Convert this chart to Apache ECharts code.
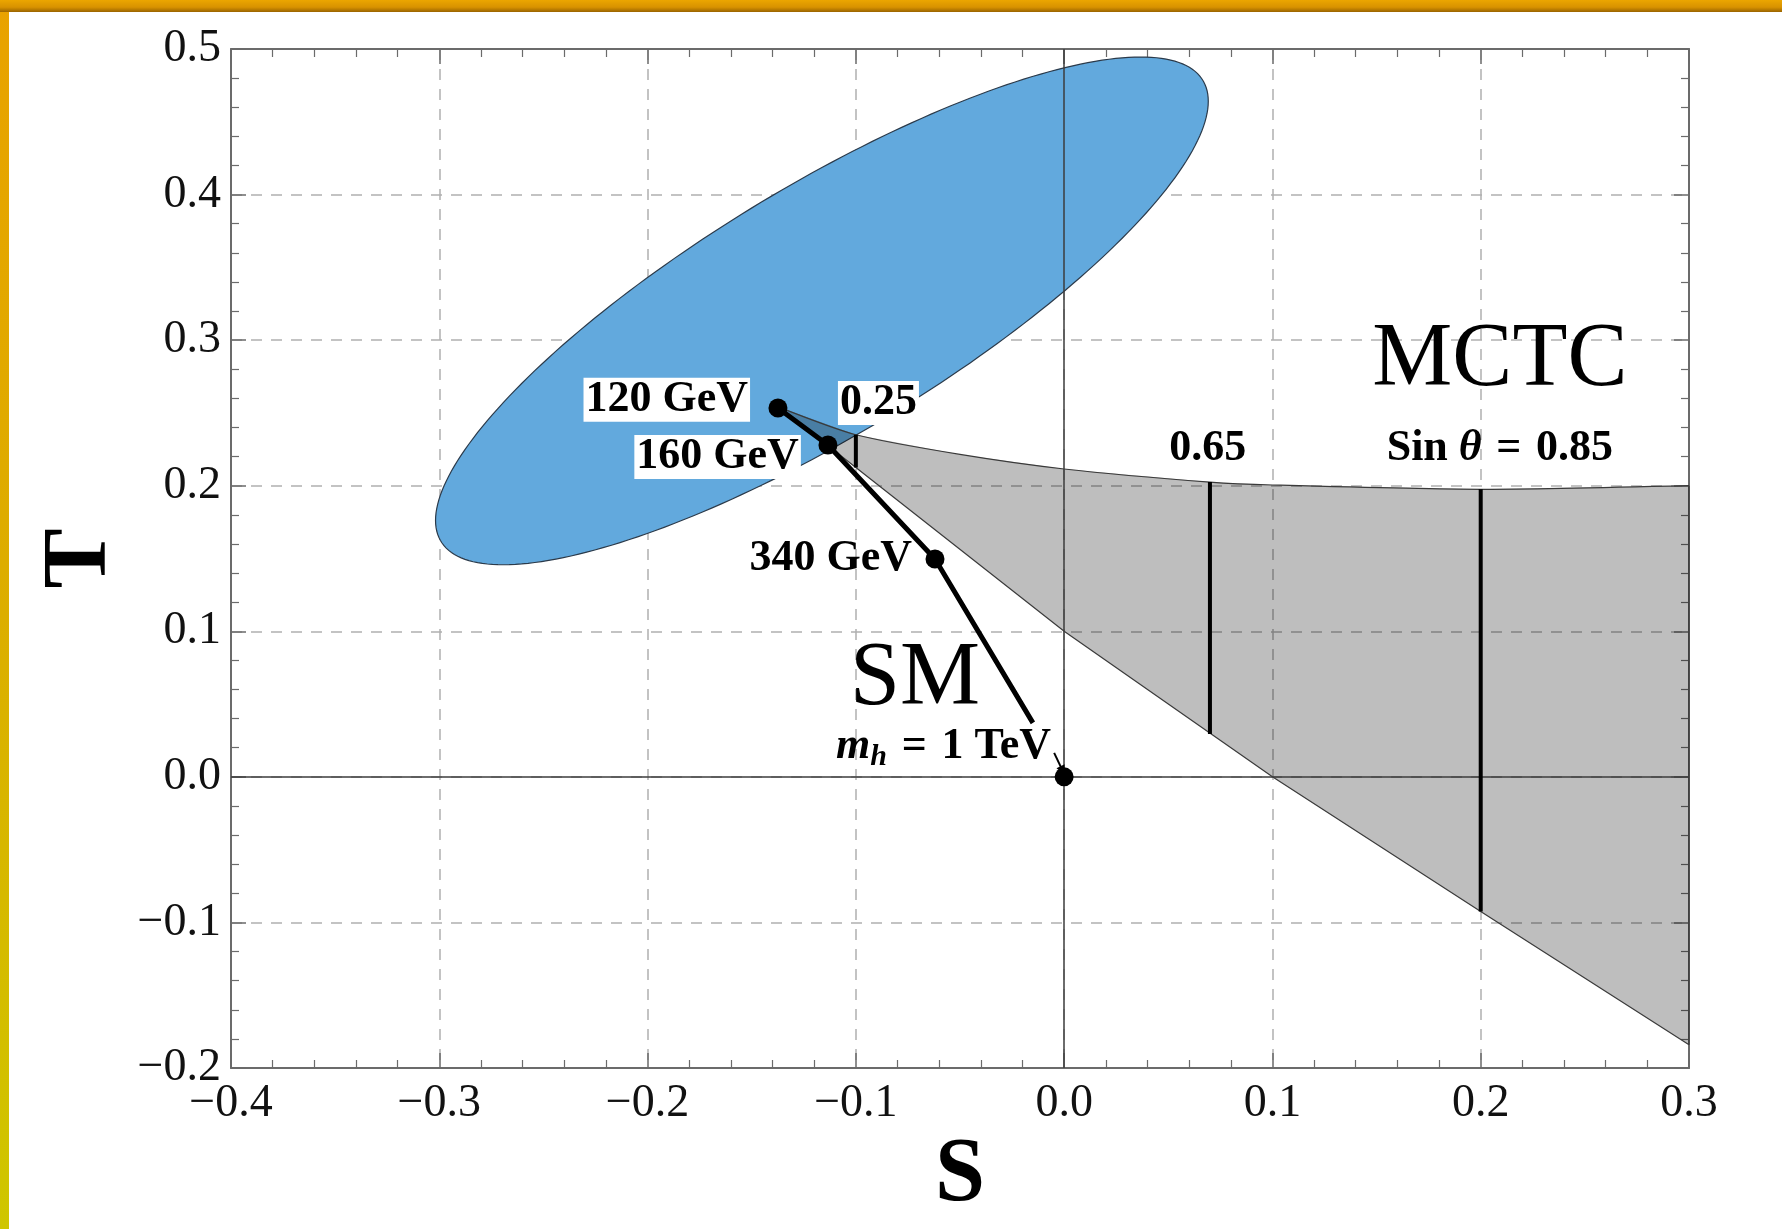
<!DOCTYPE html>
<html><head><meta charset="utf-8">
<script src="https://cdn.jsdelivr.net/npm/echarts@6/dist/echarts.min.js"></script>
<style>html,body{margin:0;padding:0;background:#fff}#c{width:1782px;height:1229px}</style>
</head><body><div id="c"></div>
<script>
// ---- tick labels ----
const xTickValues = [-0.4, -0.3, -0.2, -0.1, 0.0, 0.1, 0.2, 0.3];
const xTickLabels = ['−0.4', '−0.3', '−0.2', '−0.1', '0.0', '0.1', '0.2', '0.3'];
const yTickValues = [-0.2, -0.1, 0.0, 0.1, 0.2, 0.3, 0.4, 0.5];
const yTickLabels = ['−0.2', '−0.1', '0.0', '0.1', '0.2', '0.3', '0.4', '0.5'];

// ---- experimental ellipse (S,T) : centre, half extents in S and T, phase of tilt ----
const ellipseCenter = [-0.1163, 0.3201];
const ellipseHalfExtent = [0.1855, 0.1744];
const ellipsePhase = [0.6];

// ---- MCTC region boundaries ----
const mctcUpperS = [-0.137, -0.1, -0.05, 0.0, 0.07, 0.1, 0.2, 0.3];
const mctcUpperT = [0.254, 0.235, 0.2215, 0.2115, 0.2025, 0.2005, 0.1975, 0.200];
const mctcLowerS = [-0.137, -0.1, 0.0, 0.1, 0.2, 0.3];
const mctcLowerT = [0.254, 0.2125, 0.100, 0.000, -0.0925, -0.184];

// ---- sin theta lines ----
const sinThetaValues = ['0.25', '0.65', '0.85'];
const sinThetaS = [-0.1, 0.07, 0.2];
const sinThetaLow = [0.2125, 0.0295, -0.0925];
const sinThetaHigh = [0.235, 0.2025, 0.1975];

// ---- SM curve and Higgs mass points ----
const smPathS = [-0.1374, -0.1134, -0.062, -0.015];
const smPathT = [0.2534, 0.228, 0.1497, 0.0371];
const smMassLabels = ['120 GeV', '160 GeV', '340 GeV', '1 TeV'];
const smDotS = [-0.1374, -0.1134, -0.062, 0.0];
const smDotT = [0.2534, 0.228, 0.1497, 0.0];

const SERIF = '"Liberation Serif","DejaVu Serif",serif';
const frameColor = '#6b6b6b';
const SP = '\u2004';

function fmt(values, labels) {
  return v => { const i = values.findIndex(t => Math.abs(t - v) < 1e-6); return i >= 0 ? labels[i] : ''; };
}
function frameAxis(extra) {
  return Object.assign({
    type: 'value', interval: 0.1,
    axisLine: { show: true, onZero: false, lineStyle: { color: frameColor, width: 2 } },
    axisTick: { show: true, inside: true, length: 15, lineStyle: { color: frameColor, width: 1.5 } },
    minorTick: { show: true, splitNumber: 5, length: 8, lineStyle: { color: frameColor, width: 1.2 } },
    splitLine: { show: false }, axisLabel: { show: false }
  }, extra);
}
const gridStyle = { show: true, lineStyle: { color: '#b0b0b0', width: 1.5, type: [11, 9] } };
const labelFont = { fontFamily: SERIF, fontSize: 46, color: '#111', showMinLabel: true, showMaxLabel: true };
const nameFont = { fontFamily: SERIF, fontSize: 90, fontWeight: 'bold', color: '#000' };

function txt(x, y, formatter, opts) {
  return {
    value: [x, y],
    label: Object.assign({ show: true, position: 'inside', formatter: formatter, fontFamily: SERIF, opacity: 1,
      color: '#000', fontWeight: 'bold', fontSize: 44, verticalAlign: 'middle' }, opts)
  };
}
const whiteBox = { backgroundColor: '#fff', padding: [0, 2, 0, 2] };
const richBase = {
  b: { fontFamily: SERIF, fontWeight: 'bold', fontSize: 44, color: '#000' },
  i: { fontFamily: SERIF, fontWeight: 'bold', fontStyle: 'italic', fontSize: 44, color: '#000' },
  s: { fontFamily: SERIF, fontWeight: 'bold', fontStyle: 'italic', fontSize: 30, color: '#000',
       verticalAlign: 'bottom', padding: [20, 0, 0, 0] }
};

const chart = echarts.init(document.getElementById('c'), null, { renderer: 'canvas', width: 1782, height: 1229 });
chart.setOption({
  backgroundColor: '#fff',
  animation: false,
  grid: { left: 231, right: 93, top: 49, bottom: 161, containLabel: false },
  xAxis: [
    frameAxis({ position: 'bottom', min: -0.4, max: 0.3, splitLine: gridStyle,
      axisLabel: Object.assign({ show: true, margin: 13, formatter: fmt(xTickValues, xTickLabels) }, labelFont),
      name: 'S', nameLocation: 'middle', nameGap: 62, nameTextStyle: nameFont }),
    frameAxis({ position: 'top', min: -0.4, max: 0.3 })
  ],
  yAxis: [
    frameAxis({ position: 'left', min: -0.2, max: 0.5, splitLine: gridStyle,
      axisLabel: Object.assign({ show: true, margin: 10, formatter: fmt(yTickValues, yTickLabels) }, labelFont),
      name: 'T', nameLocation: 'middle', nameGap: 104, nameTextStyle: nameFont }),
    frameAxis({ position: 'right', min: -0.2, max: 0.5 })
  ],
  graphic: [
    { type: 'rect', left: 0, top: 0, z: 100, shape: { width: 1782, height: 12 },
      style: { fill: new echarts.graphic.LinearGradient(0, 0, 0, 1, [
        { offset: 0, color: '#eca600' }, { offset: 0.6, color: '#d89200' }, { offset: 1, color: '#9a6400' }]) } },
    { type: 'rect', left: 0, top: 0, z: 99, shape: { width: 9, height: 1229 },
      style: { fill: new echarts.graphic.LinearGradient(0, 0, 0, 1, [
        { offset: 0, color: '#e9a200' }, { offset: 0.5, color: '#dcae00' }, { offset: 1, color: '#cfc600' }]) } }
  ],
  series: [
    { // experimental ellipse
      type: 'custom', z: 2, silent: true, data: [ellipseCenter], encode: { x: 0, y: 1 },
      renderItem: (params, api) => {
        const pts = [];
        const N = 240;
        for (let k = 0; k < N; k++) {
          const t = 2 * Math.PI * k / N;
          pts.push(api.coord([ellipseCenter[0] + ellipseHalfExtent[0] * Math.cos(t),
                              ellipseCenter[1] + ellipseHalfExtent[1] * Math.cos(t - ellipsePhase[0])]));
        }
        return { type: 'polygon', shape: { points: pts }, style: { fill: '#62a9dd', stroke: '#2b3a4a', lineWidth: 1.2 } };
      }
    },
    { // MCTC region
      type: 'custom', z: 3, silent: true, data: [[mctcUpperS[0], mctcUpperT[0]]], encode: { x: 0, y: 1 },
      renderItem: (params, api) => {
        const up = mctcUpperS.map((s, i) => api.coord([s, mctcUpperT[i]]));
        const lo = mctcLowerS.map((s, i) => api.coord([s, mctcLowerT[i]]));
        const poly = up.concat(lo.slice().reverse());
        return { type: 'group', children: [
          { type: 'polygon', shape: { points: poly }, style: { fill: 'rgba(0,0,0,0.255)', stroke: null } },
          { type: 'polyline', shape: { points: up, smooth: 0.25 }, style: { fill: null, stroke: '#3a3a3a', lineWidth: 1.2 } },
          { type: 'polyline', shape: { points: lo }, style: { fill: null, stroke: '#3a3a3a', lineWidth: 1.2 } },
          { type: 'line', shape: { x1: up[up.length - 1][0], y1: up[up.length - 1][1], x2: lo[lo.length - 1][0], y2: lo[lo.length - 1][1] },
            style: { stroke: '#3a3a3a', lineWidth: 1.2 } }
        ] };
      }
    },
    { // axes through origin + small arrow to 1 TeV point
      type: 'line', z: 4, data: [], silent: true,
      markLine: {
        silent: true, symbol: ['none', 'none'], animation: false,
        label: { show: false },
        lineStyle: { color: '#3c3c3c', width: 1.5, type: 'solid' },
        data: [
          { xAxis: 0 }, { yAxis: 0 },
          [{ coord: [-0.0048, 0.0165], symbol: 'none' }, { coord: [-0.0008, 0.0045], symbol: 'triangle', symbolSize: 9,
             lineStyle: { color: '#000', width: 2 } }]
        ]
      }
    },
    { // sin theta lines
      type: 'custom', z: 5, silent: true,
      data: sinThetaS.map((s, i) => [s, sinThetaLow[i], sinThetaHigh[i]]), encode: { x: 0, y: [1, 2] },
      renderItem: (params, api) => {
        const p1 = api.coord([api.value(0), api.value(1)]);
        const p2 = api.coord([api.value(0), api.value(2)]);
        return { type: 'line', shape: { x1: p1[0], y1: p1[1], x2: p2[0], y2: p2[1] }, style: { stroke: '#000', lineWidth: 4 } };
      }
    },
    { // SM curve
      type: 'line', z: 6, silent: true, symbol: 'none',
      data: smPathS.map((s, i) => [s, smPathT[i]]),
      lineStyle: { color: '#000', width: 5, opacity: 1 }
    },
    { // Higgs mass points
      type: 'scatter', z: 7, silent: true, symbol: 'circle', symbolSize: 19,
      itemStyle: { color: '#000', opacity: 1 },
      data: smDotS.map((s, i) => [s, smDotT[i]])
    },
    { // annotations
      type: 'scatter', z: 10, silent: true, symbolSize: 0, itemStyle: { color: 'rgba(0,0,0,0)', opacity: 1 },
      data: [
        txt(-0.1508, 0.259, smMassLabels[0], Object.assign({ align: 'right' }, whiteBox)),
        txt(-0.1264, 0.2198, smMassLabels[1], Object.assign({ align: 'right' }, whiteBox)),
        txt(-0.1086, 0.2569, sinThetaValues[0], Object.assign({ align: 'left' }, whiteBox)),
        txt(-0.073, 0.1497, smMassLabels[2], { align: 'right' }),
        txt(-0.0716, 0.0666, 'SM', { align: 'center', fontWeight: 'normal', fontSize: 90 }),
        txt(-0.0063, 0.0206, '{i|m}{s|h}{b|' + SP + '=' + SP + smMassLabels[3] + '}', { align: 'right', rich: richBase }),
        txt(0.069, 0.2253, sinThetaValues[1], { align: 'center' }),
        txt(0.2092, 0.2857, 'MCTC', { align: 'center', fontWeight: 'normal', fontSize: 90 }),
        txt(0.2092, 0.2253, '{b|Sin }{i|θ}{b|' + SP + '=' + SP + sinThetaValues[2] + '}', { align: 'center', rich: richBase })
      ]
    }
  ]
});
</script></body></html>
